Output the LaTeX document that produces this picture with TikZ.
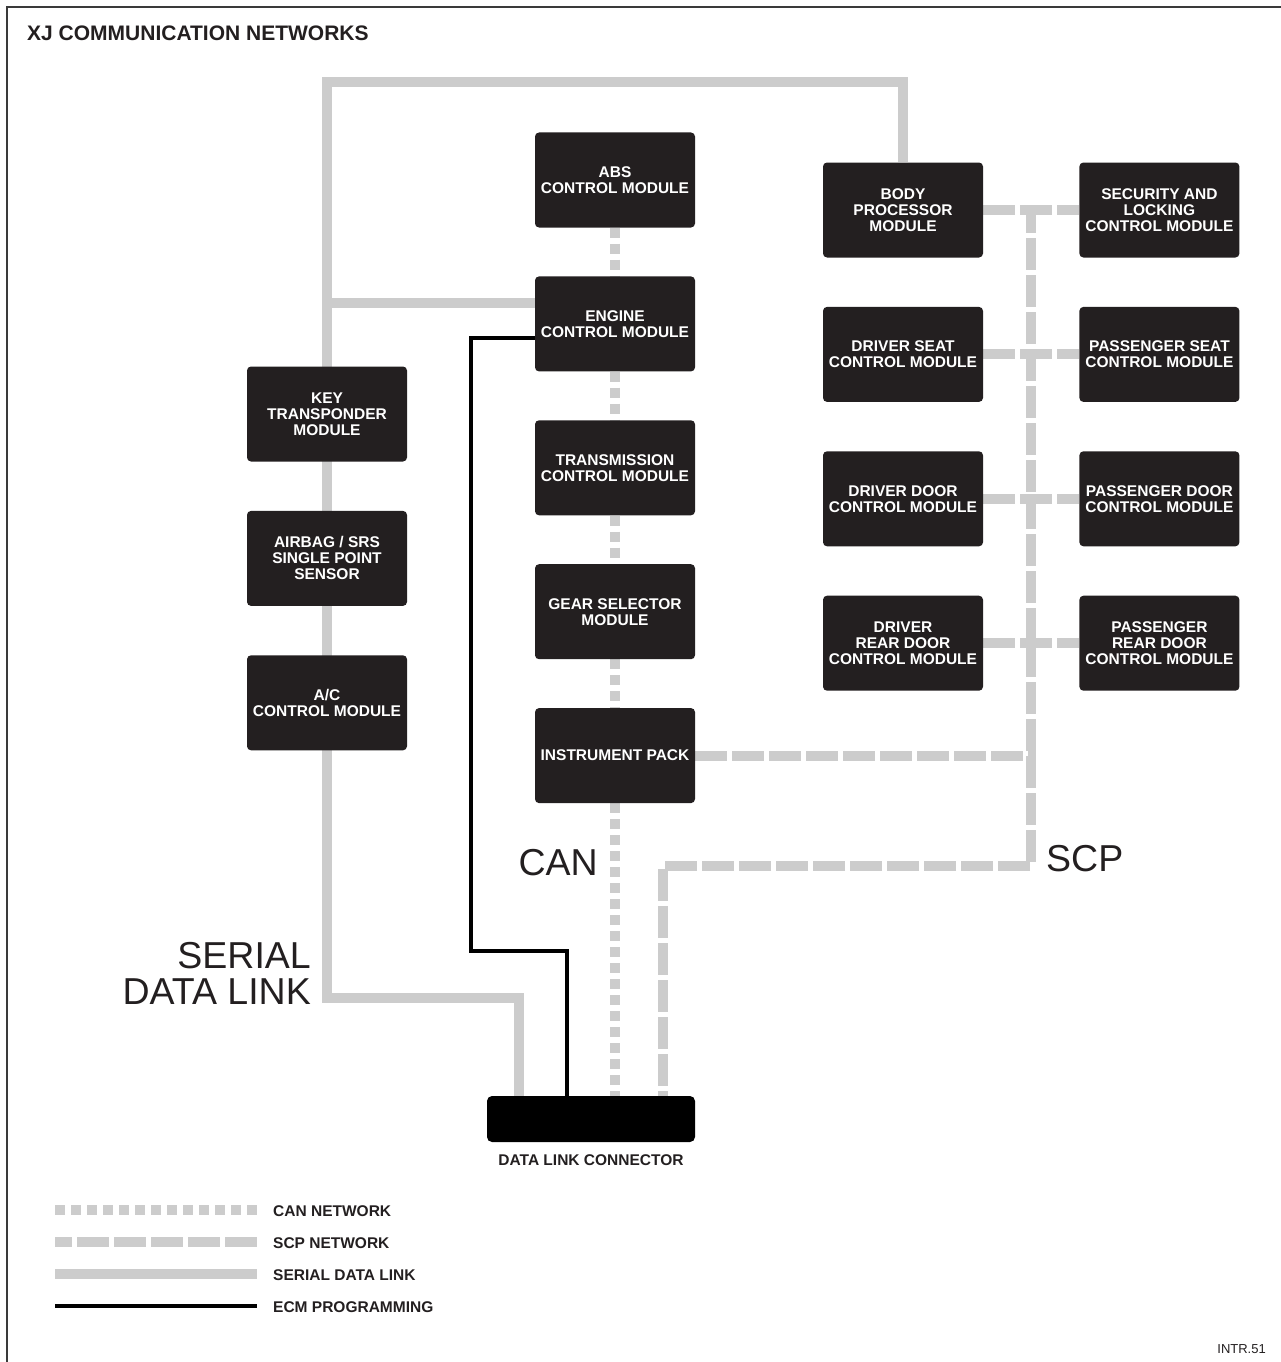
\documentclass[tikz,border=0pt]{standalone}
\usepackage{fontspec}
\setmainfont{Liberation Sans}
\usetikzlibrary{positioning,backgrounds}
\definecolor{ink}{HTML}{231F20}
\definecolor{wire}{HTML}{CCCCCC}
\definecolor{edge}{HTML}{3A3A3A}
\tikzset{
  box/.style={fill=ink, text=white, rounded corners=4pt, minimum width=160pt, minimum height=95pt, inner sep=0pt, align=center, font=\fontsize{15.5}{16}\selectfont\bfseries},
  dlcbox/.style={fill=black, rounded corners=5pt, minimum width=208pt, minimum height=46pt, inner sep=0pt},
  serial/.style={draw=wire, line width=10pt},
  can/.style={draw=wire, line width=10pt, dash pattern=on 10pt off 6pt},
  scp/.style={draw=wire, line width=10pt, dash pattern=on 32pt off 5pt},
  ecmprog/.style={draw=black, line width=3.5pt},
  pageedge/.style={draw=edge, line width=2pt},
  title/.style={font=\fontsize{21}{21}\selectfont\bfseries, inner sep=0pt, text=ink},
  netname/.style={font=\fontsize{37.5}{36}\selectfont, inner sep=0pt, text=ink},
  legend/.style={font=\fontsize{15.5}{16}\selectfont\bfseries, inner sep=0pt, text=ink, anchor=base west},
}
\begin{document}
\begin{tikzpicture}[x=1pt, y=-1pt, node distance=48.5pt]
\useasboundingbox (0,0) rectangle (1281,1362);
\draw[pageedge] (7,1362) -- (7,7) -- (1281,7);
\node[title, anchor=base west] (title) at (27,41) {XJ COMMUNICATION NETWORKS};
% CAN column
\node[box] (abs) at (615,180) {ABS\\CONTROL MODULE};
\node[box, below=of abs] (ecm) {ENGINE\\CONTROL MODULE};
\node[box, below=of ecm] (tcm) {TRANSMISSION\\CONTROL MODULE};
\node[box, below=of tcm] (gsm) {GEAR SELECTOR\\MODULE};
\node[box, below=of gsm] (ip) {INSTRUMENT PACK};
% serial data link column
\node[box] (ktm) at (327,414) {KEY\\TRANSPONDER\\MODULE};
\node[box, below=49pt of ktm] (srs) {AIRBAG / SRS\\SINGLE POINT\\SENSOR};
\node[box, below=49pt of srs] (acm) {A/C\\CONTROL MODULE};
% SCP body modules
\node[box] (bpm) at (903,210) {BODY\\PROCESSOR\\MODULE};
\node[box, right=96pt of bpm] (slcm) {SECURITY AND\\LOCKING\\CONTROL MODULE};
\node[box, below=49pt of bpm] (dscm) {DRIVER SEAT\\CONTROL MODULE};
\node[box, right=96pt of dscm] (pscm) {PASSENGER SEAT\\CONTROL MODULE};
\node[box, below=49pt of dscm] (ddcm) {DRIVER DOOR\\CONTROL MODULE};
\node[box, right=96pt of ddcm] (pdcm) {PASSENGER DOOR\\CONTROL MODULE};
\node[box, below=49pt of ddcm] (drcm) {DRIVER\\REAR DOOR\\CONTROL MODULE};
\node[box, right=96pt of drcm] (prcm) {PASSENGER\\REAR DOOR\\CONTROL MODULE};
% data link connector
\node[dlcbox] (dlc) at (591,1119) {};
\node[legend, anchor=base] (dlctext) at (591,1165) {DATA LINK CONNECTOR};
\coordinate (pinsd) at (519,1096);
\coordinate (pinecm) at (567,1096);
\coordinate (pincan) at (615,1096);
\coordinate (pinscp) at (663,1096);
% network wiring
\coordinate (sdtop) at (327,82);
\coordinate (sdbot) at (327,998);
\coordinate (sdecm) at (327,303);
\coordinate (bustop) at (1031,215);
\coordinate (busbot) at (1031,866);
\coordinate (busip) at (1036,753);
\coordinate (progleft) at (471,951);
\begin{scope}[on background layer]
\draw[serial] (bpm.north) |- (sdtop) -- (sdbot) -| (pinsd);
\draw[serial] (sdecm) -- (sdecm -| ecm.west);
\foreach \a/\b in {abs/ecm, ecm/tcm, tcm/gsm, gsm/ip} \draw[can] (\a.south) -- (\b.north);
\draw[can] (ip.south) -- (pincan);
\foreach \a/\b in {bpm/slcm, dscm/pscm, ddcm/pdcm, drcm/prcm} \draw[scp] (\a.east) -- (\b.west);
\draw[scp, dash phase=14pt] (bustop) -- (busbot) -| (pinscp);
\draw[scp] (ip.east) -- (ip.east -| busip);
\draw[ecmprog] ([yshift=-14pt]ecm.west) -| (progleft) -| (pinecm);
\end{scope}
% network names
\node[netname, anchor=base east] (canname) at (598,875) {CAN};
\node[netname, anchor=base west] (scpname) at (1046,871) {SCP};
\node[netname, align=right, anchor=east] (sdname) at (311,973) {SERIAL\\DATA LINK};
% legend
\node[legend] (lgcan) at (273,1216) {CAN NETWORK};
\node[legend] (lgscp) at (273,1248) {SCP NETWORK};
\node[legend] (lgsd) at (273,1280) {SERIAL DATA LINK};
\node[legend] (lgprog) at (273,1312) {ECM PROGRAMMING};
\draw[can] (55,1210) -- (257,1210);
\draw[scp, dash phase=15pt] (55,1242) -- (257,1242);
\draw[serial] (55,1274) -- (257,1274);
\draw[ecmprog] (55,1306) -- (257,1306);
\node[anchor=base east, font=\fontsize{13}{13}\selectfont, inner sep=0pt, text=ink] (ref) at (1266,1353) {INTR.51};
\end{tikzpicture}
\end{document}
